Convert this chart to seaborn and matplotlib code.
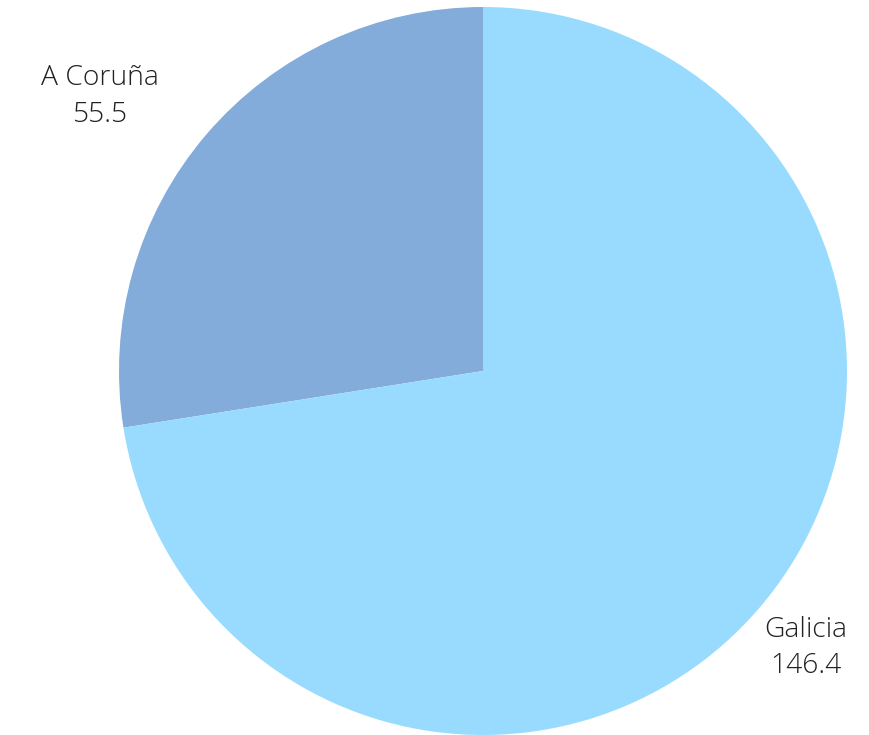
import matplotlib
matplotlib.use("Agg")
import matplotlib.pyplot as plt
import seaborn as sns

# Data
regions = ["A Coruña", "Galicia"]
values = [55.5, 146.4]
colors = ["#84ACDB", "#99DBFE"]
value_labels = ["55.5", "146.4"]

sns.set_theme(style="white")
plt.rcParams["font.family"] = ["Open Sans", "DejaVu Sans"]

fig = plt.figure(figsize=(8.69, 7.35), dpi=100)
fig.patch.set_facecolor("white")
ax = fig.add_axes([119 / 869, 0 / 735, 728 / 869, 728 / 735])

ax.pie(values, colors=colors, startangle=90, counterclock=True,
       wedgeprops=dict(linewidth=0), radius=1.0)
ax.set_xlim(-1, 1)
ax.set_ylim(-1, 1)
ax.set_aspect("auto")
ax.axis("off")

# Label positions (data coordinates of the pie axes)
label_pos = [(-1.052, 0.755), (0.887, -0.761)]
for name, val, (x, y) in zip(regions, value_labels, label_pos):
    ax.text(x, y, f"{name}\n{val}", ha="center", va="center",
            fontsize=20.3, fontweight="light", color="#222222",
            linespacing=1.42, clip_on=False)

fig.savefig("out.png", dpi=100, facecolor="white")
